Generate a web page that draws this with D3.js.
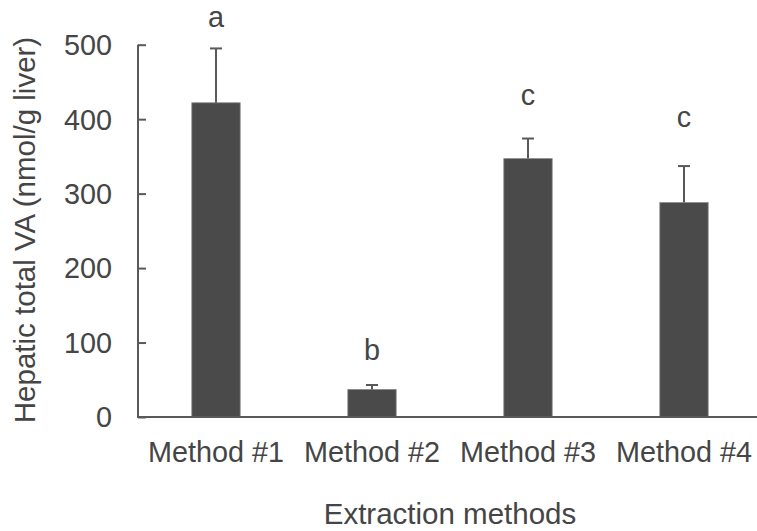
<!DOCTYPE html>
<html><head><meta charset="utf-8">
<script src="https://cdn.jsdelivr.net/npm/d3@7"></script>
<style>
html,body{margin:0;padding:0;background:#fff;}
svg{display:block;font-family:"Liberation Sans",Arial,sans-serif;}
</style></head>
<body>
<svg id="chart" width="757" height="531"></svg>
<script>
const categories = ["Method #1", "Method #2", "Method #3", "Method #4"];
const means = [422, 37, 347, 288];
const errors = [73, 6, 27, 49];
const letters = ["a", "b", "c", "c"];
const letterHeights = [524, 77, 419, 390];
const yTicks = [0, 100, 200, 300, 400, 500];
const yTitle = "Hepatic total VA (nmol/g liver)";
const xTitle = "Extraction methods";

const svg = d3.select("#chart");
const textColor = "#454545", axisColor = "#595959";
const fs = 28.8, fsTitle = 29.5;

const x = d3.scaleBand().domain(categories).range([138, 762]).paddingInner(0.69).paddingOuter(0.345);
const y = d3.scaleLinear().domain([0, 500]).range([417, 44.7]);

// bars
svg.selectAll("rect.bar").data(categories).join("rect")
  .attr("class", "bar")
  .attr("x", d => x(d))
  .attr("width", x.bandwidth())
  .attr("y", (d, i) => y(means[i]))
  .attr("height", (d, i) => y(0) - y(means[i]))
  .attr("fill", "#4a4a4a")
  .attr("stroke", "#8a8a8a").attr("stroke-width", 0.8);

// error bars
const eb = svg.append("g").attr("stroke", axisColor).attr("stroke-width", 2);
categories.forEach((c, i) => {
  const cx = x(c) + x.bandwidth() / 2;
  eb.append("line").attr("x1", cx).attr("x2", cx).attr("y1", y(means[i])).attr("y2", y(means[i] + errors[i]));
  eb.append("line").attr("x1", cx - 6).attr("x2", cx + 6).attr("y1", y(means[i] + errors[i])).attr("y2", y(means[i] + errors[i]));
});

// letters
svg.selectAll("text.letter").data(categories).join("text")
  .attr("class", "letter")
  .attr("x", d => x(d) + x.bandwidth() / 2)
  .attr("y", (d, i) => y(letterHeights[i]))
  .attr("text-anchor", "middle")
  .attr("font-size", fs).attr("fill", textColor)
  .text((d, i) => letters[i]);

// y axis
const yAxis = d3.axisRight(y).tickValues(yTicks).tickSize(8).tickFormat("");
const gy = svg.append("g").attr("transform", "translate(138,0)").call(yAxis);
gy.select(".domain").remove();
gy.selectAll(".tick line").attr("stroke", axisColor).attr("stroke-width", 2);
svg.append("line").attr("x1", 138).attr("x2", 138).attr("y1", y(500)).attr("y2", y(0))
  .attr("stroke", axisColor).attr("stroke-width", 2);
svg.selectAll("text.ytick").data(yTicks).join("text")
  .attr("class", "ytick")
  .attr("x", 112).attr("y", d => y(d)).attr("dy", "0.36em")
  .attr("text-anchor", "end").attr("font-size", fs).attr("fill", textColor)
  .text(d => d);

// x axis
svg.append("line").attr("x1", 137).attr("x2", 757).attr("y1", y(0)).attr("y2", y(0))
  .attr("stroke", axisColor).attr("stroke-width", 2);
const xAxis = d3.axisBottom(x).tickSize(0).tickPadding(0);
const gx = svg.append("g").attr("transform", "translate(0,462)").call(xAxis);
gx.select(".domain").remove();
gx.selectAll(".tick text").attr("font-size", fs).attr("fill", textColor)
  .attr("font-family", "Liberation Sans, Arial, sans-serif").attr("dy", 0);

// titles
svg.append("text").attr("x", 450).attr("y", 524).attr("text-anchor", "middle")
  .attr("font-size", fsTitle).attr("fill", textColor).text(xTitle);
svg.append("text").attr("transform", "translate(35,230) rotate(-90)").attr("text-anchor", "middle")
  .attr("font-size", fsTitle).attr("fill", textColor).text(yTitle);
</script>
</body></html>
